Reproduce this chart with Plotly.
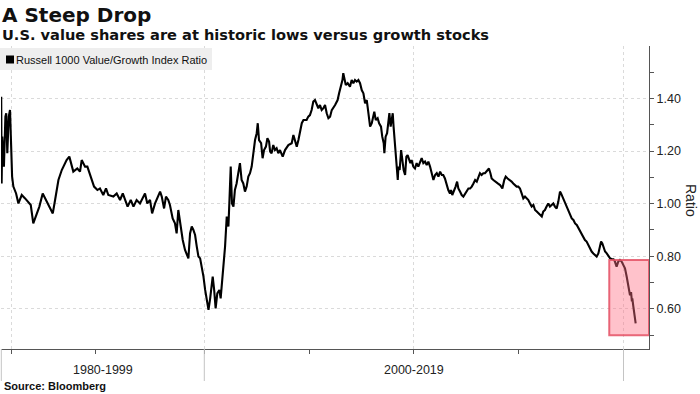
import plotly.graph_objects as go

# ---- data (decimal year, Russell 1000 Value/Growth ratio) ----
years = [
    1990.31, 1990.33, 1990.36, 1990.44, 1990.51, 1990.55, 1990.60, 1990.67, 1990.73, 1990.78,
    1990.83, 1990.89, 1991.02, 1991.13, 1991.29, 1991.45, 1991.60, 1991.72, 1991.84, 1992.00,
    1992.13, 1992.29, 1992.45, 1992.64, 1992.77, 1992.88, 1993.04, 1993.20, 1993.43, 1993.56,
    1993.75, 1993.94, 1994.07, 1994.15, 1994.31, 1994.42, 1994.58, 1994.74, 1994.90, 1995.02,
    1995.18, 1995.31, 1995.42, 1995.66, 1995.82, 1995.98, 1996.11, 1996.34, 1996.49, 1996.62,
    1996.77, 1996.93, 1997.17, 1997.28, 1997.41, 1997.51, 1997.65,
    1997.89, 1997.97, 1998.08, 1998.17, 1998.28, 1998.36, 1998.49, 1998.60, 1998.68, 1998.76,
    1998.84, 1998.97, 1999.08, 1999.16, 1999.24, 1999.32, 1999.40, 1999.48, 1999.56, 1999.64,
    1999.72, 1999.80, 1999.88, 1999.96, 2000.04, 2000.12, 2000.20, 2000.28, 2000.36, 2000.40,
    2000.47, 2000.54, 2000.62, 2000.72, 2000.78, 2000.83, 2000.91, 2000.99, 2001.07, 2001.15,
    2001.20, 2001.26, 2001.32, 2001.39, 2001.46, 2001.54, 2001.62, 2001.70, 2001.78, 2001.86,
    2001.94, 2002.02, 2002.10, 2002.18, 2002.26, 2002.34, 2002.42, 2002.50, 2002.55, 2002.61,
    2002.71, 2002.78, 2002.85, 2002.94, 2003.01, 2003.09, 2003.14, 2003.21, 2003.29, 2003.37,
    2003.45, 2003.53, 2003.61, 2003.74, 2003.85, 2004.01, 2004.17, 2004.25, 2004.33, 2004.41,
    2004.49, 2004.57, 2004.65, 2004.73, 2004.88, 2004.96, 2005.04, 2005.12, 2005.20, 2005.28,
    2005.36, 2005.44, 2005.52, 2005.60, 2005.68,
    2005.76, 2005.84, 2005.92, 2006.00, 2006.08, 2006.24, 2006.36, 2006.43, 2006.52, 2006.59,
    2006.63, 2006.68, 2006.75, 2006.84, 2006.95, 2007.03, 2007.11, 2007.19, 2007.27, 2007.35,
    2007.43, 2007.51, 2007.59, 2007.67, 2007.75, 2007.79, 2007.86, 2007.91, 2007.99, 2008.07,
    2008.11, 2008.18, 2008.27, 2008.34, 2008.43, 2008.49, 2008.56, 2008.59, 2008.65, 2008.72,
    2008.78, 2008.83, 2008.89, 2008.94, 2008.99, 2009.03, 2009.07, 2009.13, 2009.18, 2009.23,
    2009.26, 2009.32, 2009.39, 2009.45, 2009.51, 2009.58, 2009.64, 2009.70, 2009.77, 2009.83,
    2009.89, 2009.97, 2010.05, 2010.13, 2010.21, 2010.29, 2010.37, 2010.45, 2010.53, 2010.61,
    2010.69, 2010.77, 2010.85, 2010.93, 2011.01, 2011.09, 2011.17, 2011.25, 2011.33, 2011.40,
    2011.48, 2011.56, 2011.64, 2011.72, 2011.77, 2011.83, 2011.93, 2011.99, 2012.06, 2012.12,
    2012.20, 2012.28, 2012.36, 2012.44, 2012.52, 2012.60, 2012.68, 2012.76, 2012.84, 2012.92,
    2013.00, 2013.08, 2013.15, 2013.23, 2013.31,
    2013.39, 2013.47, 2013.58, 2013.65, 2013.71, 2013.79, 2013.87, 2014.00, 2014.11, 2014.22,
    2014.31, 2014.38, 2014.47, 2014.58, 2014.66, 2014.74, 2014.82, 2014.90, 2014.98, 2015.06,
    2015.14, 2015.22, 2015.30, 2015.38, 2015.46, 2015.54, 2015.62, 2015.70, 2015.78, 2015.86,
    2015.94, 2016.02, 2016.10, 2016.17, 2016.25, 2016.33, 2016.41, 2016.49, 2016.57, 2016.65,
    2016.73, 2016.81, 2016.89, 2016.97, 2017.02, 2017.08, 2017.16, 2017.24, 2017.34, 2017.40,
    2017.46, 2017.53, 2017.61, 2017.69, 2017.77, 2017.85, 2017.92, 2018.00, 2018.08, 2018.16,
    2018.24, 2018.32, 2018.40, 2018.48, 2018.56, 2018.64, 2018.72, 2018.80, 2018.88, 2018.93,
    2018.99, 2019.05, 2019.12, 2019.20, 2019.28, 2019.36, 2019.44, 2019.52, 2019.59, 2019.67,
    2019.75, 2019.83, 2019.91, 2019.99, 2020.07, 2020.15, 2020.23, 2020.28, 2020.31, 2020.36,
    2020.40, 2020.42, 2020.47, 2020.52, 2020.58,
]
ratio = [
    1.407, 1.077, 1.255, 1.141, 1.331, 1.344, 1.192, 1.331, 1.356, 1.230,
    1.103, 1.065, 1.039, 1.001, 1.033, 1.020, 1.008, 0.995, 0.925, 0.963,
    0.989, 1.039, 1.014, 0.989, 0.963, 1.014, 1.090, 1.128, 1.166, 1.179,
    1.122, 1.134, 1.122, 1.166, 1.141, 1.141, 1.103, 1.065, 1.052, 1.058,
    1.033, 1.058, 1.033, 1.027, 1.039, 1.014, 1.039, 0.989, 1.014, 0.989,
    1.014, 1.001, 1.039, 1.001, 1.014, 0.963, 1.001,
    1.046, 1.027, 0.982, 1.027, 1.014, 0.995, 0.944, 0.925, 0.887, 0.976,
    0.925, 0.862, 0.824, 0.811, 0.792, 0.887, 0.913, 0.900, 0.881, 0.837,
    0.799, 0.792, 0.761, 0.723, 0.672, 0.634, 0.596, 0.640, 0.685, 0.723,
    0.672, 0.602, 0.659, 0.672, 0.640, 0.685, 0.761, 0.837, 0.951, 0.913,
    1.014, 1.141, 1.001, 0.989, 1.052, 1.077, 1.116, 1.154, 1.090, 1.077,
    1.046, 1.065, 1.103, 1.116, 1.141, 1.204, 1.242, 1.268, 1.306, 1.242,
    1.230, 1.173, 1.204, 1.217, 1.249, 1.236, 1.198, 1.192, 1.223, 1.204,
    1.211, 1.192, 1.204, 1.179, 1.204, 1.223, 1.230, 1.261, 1.236, 1.217,
    1.242, 1.274, 1.306, 1.318, 1.318, 1.331, 1.337, 1.356, 1.388, 1.394,
    1.375, 1.363, 1.375, 1.356, 1.363,
    1.375, 1.344, 1.325, 1.331, 1.356, 1.375, 1.394, 1.420, 1.445, 1.470,
    1.496, 1.477, 1.451, 1.458, 1.445, 1.470, 1.458, 1.470, 1.464, 1.470,
    1.458, 1.432, 1.420, 1.382, 1.394, 1.369, 1.331, 1.293, 1.306, 1.331,
    1.350, 1.318, 1.325, 1.306, 1.293, 1.255, 1.230, 1.192, 1.255, 1.268,
    1.318, 1.344, 1.293, 1.331, 1.344, 1.293, 1.255, 1.192, 1.141, 1.090,
    1.141, 1.128, 1.204, 1.154, 1.128, 1.109, 1.179, 1.185, 1.166, 1.154,
    1.166, 1.141, 1.134, 1.154, 1.141, 1.160, 1.173, 1.154, 1.160, 1.147,
    1.160, 1.141, 1.116, 1.090, 1.109, 1.116, 1.103, 1.122, 1.109, 1.109,
    1.096, 1.071, 1.052, 1.039, 1.052, 1.033, 1.052, 1.065, 1.084, 1.058,
    1.046, 1.033, 1.027, 1.039, 1.052, 1.058, 1.058, 1.065, 1.077, 1.090,
    1.084, 1.103, 1.116, 1.109, 1.116,
    1.116, 1.122, 1.134, 1.116, 1.096, 1.090, 1.084, 1.077, 1.071, 1.058,
    1.090, 1.103, 1.096, 1.090, 1.084, 1.077, 1.071, 1.065, 1.065, 1.058,
    1.039, 1.020, 1.027, 1.020, 1.014, 1.001, 0.989, 0.995, 0.976, 0.970,
    0.963, 0.957, 0.951, 0.970, 0.976, 0.989, 1.001, 0.989, 0.995, 1.001,
    0.989, 0.982, 1.008, 1.046, 1.039, 1.027, 1.014, 0.995, 0.982, 0.963,
    0.951, 0.944, 0.938, 0.925, 0.919, 0.906, 0.900, 0.887, 0.875, 0.862,
    0.856, 0.843, 0.830, 0.818, 0.811, 0.805, 0.799, 0.811, 0.837, 0.856,
    0.849, 0.830, 0.818, 0.811, 0.799, 0.792, 0.790, 0.789, 0.780, 0.761,
    0.780, 0.786, 0.780, 0.767, 0.754, 0.723, 0.685, 0.672, 0.652, 0.664,
    0.628, 0.640, 0.609, 0.583, 0.545,
]

series_name = "Russell 1000 Value/Growth Index Ratio"
y_tick_vals = [0.6, 0.8, 1.0, 1.2, 1.4]
y_minor_vals = [0.5, 0.7, 0.9, 1.1, 1.3, 1.5]
x_grid_vals = [1990.8, 2000, 2010, 2020]
x_minor_vals = [1994.83, 2005, 2015]
period_labels = ["1980-1999", "2000-2019"]
period_centers = [1995.15, 2010.0]
period_bounds = [2000, 2020]
x_range = [1990.30, 2021.216]
y_range = [0.4475, 1.5996]
highlight_x0 = 2019.32
highlight_y = [0.50, 0.786]

W, H = 700, 394
ML, MR, MT, MB = 1, 51, 46, 45
PW, PH = W - ML - MR, H - MT - MB


def px(xp):
    return (xp - ML) / PW


def py(yp):
    return (H - MB - yp) / PH


TICK_FONT = "Liberation Sans, Arial, sans-serif"
GRID = "#dadada"
AXIS = "#555555"

fig = go.Figure()
fig.add_trace(go.Scatter(
    x=years, y=ratio, mode="lines", name=series_name,
    line=dict(color="#000000", width=2.1), showlegend=False, hoverinfo="skip",
))

shapes = []
shapes.append(dict(type="rect", xref="x", yref="y", x0=highlight_x0, x1=x_range[1],
                   y0=highlight_y[0], y1=highlight_y[1], layer="above",
                   fillcolor="rgba(255,110,130,0.42)",
                   line=dict(color="rgba(228,80,100,0.85)", width=2)))
for b in period_bounds:
    shapes.append(dict(type="line", xref="x", yref="paper", x0=b, x1=b, y0=0, y1=py(381),
                       line=dict(color="#c4c4c4", width=1)))
shapes.append(dict(type="line", xref="paper", yref="paper", x0=0.0005, x1=0.0005, y0=0, y1=py(381),
                   line=dict(color="#c4c4c4", width=1)))
shapes.append(dict(type="rect", xref="paper", yref="paper", x0=px(0), x1=px(212),
                   y0=py(70), y1=py(48), layer="above", fillcolor="#eeeeee", line=dict(width=0)))
shapes.append(dict(type="rect", xref="paper", yref="paper", x0=px(6), x1=px(14),
                   y0=py(63.5), y1=py(55.5), layer="above", fillcolor="#000000", line=dict(width=0)))

annotations = [
    dict(text="<b>A Steep Drop</b>", xref="paper", yref="paper", x=px(0), y=py(15),
         xanchor="left", yanchor="middle", showarrow=False,
         font=dict(family="DejaVu Sans", size=20, color="#111111")),
    dict(text="<b>U.S. value shares are at historic lows versus growth stocks</b>",
         xref="paper", yref="paper", x=px(0), y=py(35), xanchor="left", yanchor="middle",
         showarrow=False, font=dict(family="DejaVu Sans", size=14.6, color="#111111")),
    dict(text=series_name, xref="paper", yref="paper", x=px(14), y=py(59.5),
         xanchor="left", yanchor="middle", showarrow=False,
         font=dict(family=TICK_FONT, size=11, color="#111111")),
    dict(text="Ratio", xref="paper", yref="paper", x=px(691), y=py(200), textangle=90,
         xanchor="center", yanchor="middle", showarrow=False,
         font=dict(family=TICK_FONT, size=14, color="#222222")),
    dict(text="<b>Source: Bloomberg</b>", xref="paper", yref="paper", x=px(2), y=py(386),
         xanchor="left", yanchor="middle", showarrow=False,
         font=dict(family=TICK_FONT, size=11, color="#111111")),
]
for lab, c in zip(period_labels, period_centers):
    annotations.append(dict(text=lab, xref="x", yref="paper", x=c, y=py(370),
                            xanchor="center", yanchor="middle", showarrow=False,
                            font=dict(family=TICK_FONT, size=12.5, color="#222222")))

fig.update_layout(
    width=W, height=H, margin=dict(l=ML, r=MR, t=MT, b=MB, pad=0),
    paper_bgcolor="white", plot_bgcolor="white", hovermode=False,
    shapes=shapes, annotations=annotations, showlegend=False,
    xaxis=dict(range=x_range, showline=True, linecolor=AXIS, linewidth=1,
               tickvals=x_grid_vals, showticklabels=False, ticks="outside", ticklen=4,
               tickcolor=AXIS, showgrid=True, gridcolor=GRID, griddash="dot", zeroline=False,
               minor=dict(tickvals=x_minor_vals, ticks="outside", ticklen=4, tickcolor=AXIS,
                          showgrid=False)),
    yaxis=dict(range=y_range, side="right", showline=True, linecolor=AXIS, linewidth=1,
               tickvals=y_tick_vals, ticktext=[f"{v:.2f}" for v in y_tick_vals],
               ticks="outside", ticklen=4, tickcolor=AXIS, showgrid=True, gridcolor=GRID,
               griddash="dot", zeroline=False,
               tickfont=dict(family=TICK_FONT, size=12.5, color="#222222"),
               minor=dict(tickvals=y_minor_vals, ticks="outside", ticklen=4, tickcolor=AXIS,
                          showgrid=False)),
)

fig.write_html("out.html", config={"displayModeBar": False, "staticPlot": True},
               post_script="document.body.style.margin='0px';")
